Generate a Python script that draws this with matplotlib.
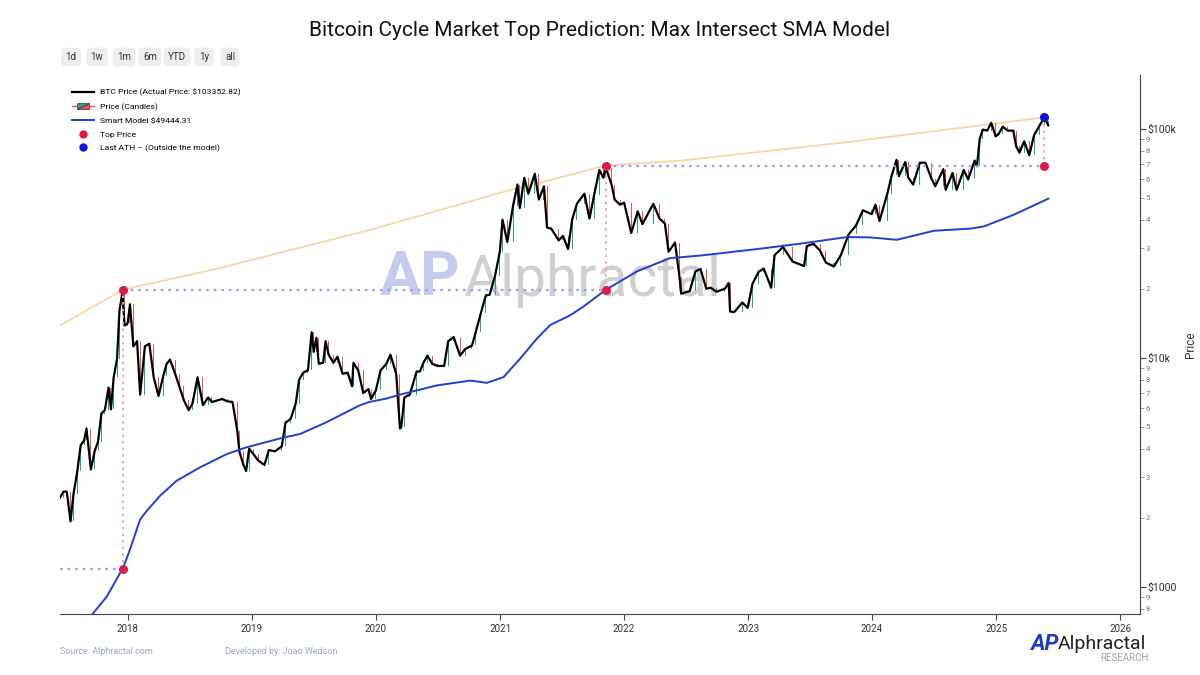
import matplotlib
matplotlib.use('Agg')
import matplotlib.pyplot as plt
import matplotlib.dates as mdates
import matplotlib.ticker as mticker
from matplotlib.lines import Line2D
from matplotlib.patches import Polygon
from matplotlib.legend_handler import HandlerBase
import numpy as np
import pandas as pd

plt.rcParams['font.family'] = ['Roboto', 'DejaVu Sans']

# BTC closes (roughly twice a month, extra points at turns)
price_dates = [
    "2017-06-15", "2017-06-25", "2017-07-05", "2017-07-16", "2017-07-25", "2017-08-05",
    "2017-08-15", "2017-08-25", "2017-09-01", "2017-09-14", "2017-09-25", "2017-10-05",
    "2017-10-15", "2017-10-25", "2017-11-05", "2017-11-12", "2017-11-20", "2017-11-30",
    "2017-12-07", "2017-12-16", "2017-12-22", "2017-12-31", "2018-01-07", "2018-01-17",
    "2018-01-28", "2018-02-06", "2018-02-20", "2018-03-05", "2018-03-18", "2018-04-01",
    "2018-04-15", "2018-04-25", "2018-05-05", "2018-05-20", "2018-06-01", "2018-06-15",
    "2018-06-29", "2018-07-10", "2018-07-25", "2018-08-10", "2018-08-25", "2018-09-05",
    "2018-09-20", "2018-10-05", "2018-10-20", "2018-11-05", "2018-11-19", "2018-11-25",
    "2018-12-07", "2018-12-15", "2018-12-24", "2019-01-05", "2019-01-20", "2019-02-07",
    "2019-02-20", "2019-03-10", "2019-03-30", "2019-04-10", "2019-04-25", "2019-05-10",
    "2019-05-20", "2019-06-01", "2019-06-15", "2019-06-26", "2019-07-02", "2019-07-10",
    "2019-07-17", "2019-07-30", "2019-08-06", "2019-08-15", "2019-08-29", "2019-09-10",
    "2019-09-25", "2019-10-10", "2019-10-23", "2019-10-27", "2019-11-10", "2019-11-25",
    "2019-12-10", "2019-12-18", "2020-01-01", "2020-01-15", "2020-02-01", "2020-02-13",
    "2020-03-01", "2020-03-12", "2020-03-16", "2020-03-25", "2020-04-10", "2020-04-30",
    "2020-05-10", "2020-05-20", "2020-06-01", "2020-06-15", "2020-07-01", "2020-07-20",
    "2020-08-01", "2020-08-17", "2020-09-05", "2020-09-20", "2020-10-10", "2020-10-21",
    "2020-11-05", "2020-11-20", "2020-12-01", "2020-12-17", "2020-12-31", "2021-01-08",
    "2021-01-22", "2021-02-08", "2021-02-21", "2021-02-28", "2021-03-13", "2021-03-25",
    "2021-04-13", "2021-04-25", "2021-05-10", "2021-05-19", "2021-06-01", "2021-06-22",
    "2021-07-05", "2021-07-20", "2021-08-01", "2021-08-15", "2021-09-06", "2021-09-21",
    "2021-10-05", "2021-10-20", "2021-11-01", "2021-11-08", "2021-11-25", "2021-12-04",
    "2021-12-20", "2022-01-01", "2022-01-22", "2022-02-10", "2022-02-24", "2022-03-28",
    "2022-04-15", "2022-05-01", "2022-05-12", "2022-05-31", "2022-06-13", "2022-06-18",
    "2022-07-01", "2022-07-13", "2022-07-30", "2022-08-14", "2022-08-31", "2022-09-13",
    "2022-09-30", "2022-10-25", "2022-11-05", "2022-11-09", "2022-11-21", "2022-12-15",
    "2022-12-31", "2023-01-14", "2023-02-01", "2023-02-16", "2023-03-10", "2023-03-20",
    "2023-04-14", "2023-05-12", "2023-06-15", "2023-06-23", "2023-07-13", "2023-08-01",
    "2023-08-18", "2023-09-11", "2023-10-01", "2023-10-24", "2023-11-15", "2023-12-05",
    "2023-12-31", "2024-01-11", "2024-01-23", "2024-02-15", "2024-02-28", "2024-03-13",
    "2024-03-20", "2024-04-08", "2024-04-17", "2024-05-01", "2024-05-21", "2024-06-06",
    "2024-06-24", "2024-07-05", "2024-07-29", "2024-08-05", "2024-08-25", "2024-09-06",
    "2024-09-27", "2024-10-10", "2024-10-29", "2024-11-05", "2024-11-13", "2024-11-22",
    "2024-12-05", "2024-12-17", "2024-12-30", "2025-01-08", "2025-01-20", "2025-02-03",
    "2025-02-20", "2025-02-28", "2025-03-10", "2025-03-24", "2025-04-08", "2025-04-22",
    "2025-05-08", "2025-05-22", "2025-05-28", "2025-06-03",
]
price_close = [
    2450, 2600, 2600, 1930, 2550, 3200,
    4150, 4350, 4900, 3250, 3900, 4300,
    5700, 5900, 7400, 5950, 8200, 9900,
    16000, 19400, 13800, 14100, 17100, 11200,
    11800, 6900, 11200, 11500, 8200, 6800,
    8300, 9400, 9800, 8500, 7500, 6500,
    5900, 6300, 8200, 6200, 6700, 6400,
    6500, 6600, 6450, 6400, 4800, 3900,
    3400, 3200, 4000, 3800, 3550, 3400,
    3950, 3900, 4100, 5200, 5400, 6300,
    8000, 8600, 8800, 12900, 10600, 12200,
    9400, 9500, 11800, 10300, 9500, 10100,
    8500, 8600, 7500, 9500, 8800, 7000,
    7300, 6600, 7200, 8800, 9400, 10300,
    8500, 4900, 5000, 6700, 6900, 8700,
    8700, 9500, 10200, 9400, 9200, 9200,
    11800, 12300, 10200, 10900, 11300, 12900,
    15600, 18700, 18800, 22800, 29000, 40000,
    32000, 46000, 57000, 45000, 61000, 52000,
    63500, 49000, 56000, 37000, 36500, 32500,
    34000, 29800, 40000, 47000, 52000, 40500,
    51500, 66000, 61000, 67500, 57000, 49000,
    46500, 47500, 35000, 43500, 38300, 47000,
    40500, 38500, 29000, 31800, 22500, 19000,
    19300, 19500, 23800, 24400, 20000, 20200,
    19400, 20000, 21200, 15900, 15800, 17400,
    16500, 21000, 23700, 24500, 20200, 28000,
    30400, 26300, 25100, 30700, 31400, 29300,
    26000, 25000, 28000, 34500, 37800, 44000,
    42300, 46500, 39500, 52000, 62500, 73000,
    62000, 71500, 61000, 57000, 71000, 71000,
    60500, 56000, 66500, 54000, 64000, 54000,
    66000, 60000, 72500, 68500, 90000, 99000,
    98000, 106000, 92500, 95000, 102000, 98000,
    98000, 84000, 78500, 88000, 76500, 93500,
    103000, 111600, 107800, 103350,
]

# Smart Model (SMA) line
model_dates = [
    "2017-09-17", "2017-10-31", "2017-12-09", "2017-12-17", "2018-01-07", "2018-02-06",
    "2018-02-25", "2018-04-05", "2018-05-24", "2018-08-01", "2018-10-19", "2018-12-16",
    "2019-03-26", "2019-05-23", "2019-08-09", "2019-11-14", "2019-12-14", "2020-01-28",
    "2020-03-21", "2020-06-28", "2020-10-05", "2020-11-23", "2021-01-11", "2021-03-01",
    "2021-04-19", "2021-05-29", "2021-07-26", "2021-09-03", "2021-11-08", "2022-02-08",
    "2022-05-16", "2022-08-13", "2023-02-06", "2023-06-14", "2023-10-19", "2023-12-26",
    "2024-03-14", "2024-07-01", "2024-10-17", "2024-11-25", "2025-02-22", "2025-06-03",
]
model_values = [
    754, 906, 1148, 1200, 1452, 1967,
    2139, 2489, 2898, 3317, 3793, 4058,
    4443, 4642, 5227, 6187, 6412, 6606,
    6950, 7560, 7940, 7760, 8220, 9910,
    12100, 13900, 15300, 16700, 19783, 23800,
    27200, 27900, 29900, 31600, 33600, 33500,
    32700, 35800, 36600, 37400, 42100, 49444,
]

# upper curve through the cycle tops
curve_dates = ["2017-06-15", "2017-12-17", "2018-09-23", "2019-12-14", "2021-01-01",
               "2021-11-08", "2022-06-15", "2023-10-28", "2025-05-22"]
curve_values = [13800, 19783, 24500, 36100, 52400, 69000, 72400, 87600, 111970]

# cycle tops and where the model meets the previous top
top_dates = ["2017-12-17", "2021-11-08"]
top_prices = [19783, 69000]
prev_top_levels = [1200, 19783]
ath_date = "2025-05-22"
ath_price = 111970

green = '#26a69a'
red = '#ef5350'
dot_red = '#e0194b'
blue = '#1d3fd6'
dot_style = (0, (1.2, 2.2))

fig = plt.figure(figsize=(12, 6.75), dpi=100)
ax = fig.add_axes([0.05, 0.0904, 0.9, 0.799])

d = pd.to_datetime(price_dates)
c = np.array(price_close, dtype=float)
o = np.r_[c[0], c[:-1]]
up = c >= o
ax.bar(d[up], (c - o)[up], bottom=o[up], width=3, color=green, zorder=2)
ax.bar(d[~up], (c - o)[~up], bottom=o[~up], width=3, color=red, zorder=2)
ax.plot(d, c, color='black', lw=1.6, zorder=3)

ax.plot(pd.to_datetime(curve_dates), curve_values, color='#f9d7a0', lw=1.3, zorder=1)
ax.plot(pd.to_datetime(model_dates), model_values, color=blue, lw=1.4, zorder=4)

x_start = pd.Timestamp("2017-06-15")
x_end = pd.Timestamp("2026-02-28")
td = pd.to_datetime(top_dates)
hline_starts = [x_start, td[0]]
for i in range(len(top_dates)):
    ax.plot([hline_starts[i], td[i]], [prev_top_levels[i]] * 2, color='#9d9df2',
            ls=dot_style, lw=1.6, zorder=5)
    ax.plot([td[i], td[i]], [prev_top_levels[i], top_prices[i]], color='#f5a3b6',
            ls=dot_style, lw=1.4, zorder=5)
    ax.plot([td[i]] * 2, [top_prices[i], prev_top_levels[i]], 'o', color=dot_red,
            ms=5.5, zorder=6)

ad = pd.Timestamp(ath_date)
ax.plot([td[1], ad], [top_prices[1]] * 2, color='#9d9df2', ls=dot_style, lw=1.6, zorder=5)
ax.plot([ad, ad], [top_prices[1], ath_price], color='#f5a3b6', ls=dot_style, lw=1.4, zorder=5)
ax.plot([ad], [top_prices[1]], 'o', color=dot_red, ms=5.5, zorder=6)
ax.plot([ad], [ath_price], 'o', color='#0a14d8', ms=5.5, zorder=6)

# axes styling
ax.set_yscale('log')
ax.set_ylim(760, 172000)
ax.set_xlim(x_start, x_end)
for s in ['left', 'top']:
    ax.spines[s].set_visible(False)
ax.spines['right'].set_color('#444444')
ax.spines['bottom'].set_color('#444444')
ax.yaxis.tick_right()
ax.yaxis.set_label_position('right')
ax.set_ylabel('Price', fontsize=8.5, color='#333333')
ax.yaxis.set_label_coords(1.041, 0.5)

ax.yaxis.set_major_locator(mticker.LogLocator(base=10))
ax.yaxis.set_major_formatter(mticker.FuncFormatter(
    lambda v, p: {1000: '$1000', 10000: '$10k', 100000: '$100k'}.get(int(round(v)), '')))
ax.yaxis.set_minor_locator(mticker.LogLocator(base=10, subs=range(2, 10)))
ax.yaxis.set_minor_formatter(mticker.FuncFormatter(
    lambda v, p: str(int(round(v / 10 ** np.floor(np.log10(v) + 1e-9))))))
ax.tick_params(axis='y', which='major', labelsize=7.5, length=4, color='#444444', labelcolor='#333333', pad=1)
ax.tick_params(axis='y', which='minor', labelsize=5.5, length=3, color='#888888', labelcolor='#777777', pad=1)
ax.xaxis.set_major_locator(mdates.YearLocator())
ax.xaxis.set_major_formatter(mdates.DateFormatter('%Y'))
ax.tick_params(axis='x', labelsize=7, length=4, color='#444444', labelcolor='#333333')

# watermark
ax.text(0.333, 0.623, 'AP', transform=ax.transAxes, fontsize=44, fontweight='bold',
        color='#b4bbec', alpha=0.75, ha='center', va='center', zorder=0)
ax.text(0.373, 0.618, 'Alphractal', transform=ax.transAxes, fontsize=41,
        color='#c4c4c4', alpha=0.8, ha='left', va='center', zorder=0)


class CandleHandler(HandlerBase):
    def create_artists(self, legend, orig, xd, yd, w, h, fontsize, trans):
        ln = Line2D([xd, xd + w], [yd + h / 2] * 2, color=red, lw=1, transform=trans)
        a = Polygon([[xd + w * 0.22, yd], [xd + w * 0.22, yd + h], [xd + w * 0.78, yd + h]],
                    closed=True, facecolor=green, edgecolor='#333333', lw=0.5, transform=trans)
        b = Polygon([[xd + w * 0.22, yd], [xd + w * 0.78, yd], [xd + w * 0.78, yd + h]],
                    closed=True, facecolor=red, edgecolor='#333333', lw=0.5, transform=trans)
        return [ln, a, b]


candle_proxy = Polygon([[0, 0], [1, 1], [1, 0]])
handles = [
    Line2D([], [], color='black', lw=1.6),
    candle_proxy,
    Line2D([], [], color=blue, lw=1.4),
    Line2D([], [], ls='none', marker='o', color=dot_red, ms=5),
    Line2D([], [], ls='none', marker='o', color='#0a14d8', ms=5),
]
labels = [
    'BTC Price (Actual Price: $103352.82)',
    'Price (Candles)',
    'Smart Model $49444.31',
    'Top Price',
    'Last ATH \u2013 (Outside the model)',
]
fig.legend(handles, labels, loc='upper left', bbox_to_anchor=(0.054, 0.88), frameon=False,
           fontsize=6.1, handlelength=2.5, handletextpad=0.8, labelspacing=0.78,
           handler_map={candle_proxy: CandleHandler()})

# title and range buttons
fig.text(0.5, 0.955, 'Bitcoin Cycle Market Top Prediction: Max Intersect SMA Model',
         ha='center', va='center', fontsize=15, color='#111111')
buttons = ['1d', '1w', '1m', '6m', 'YTD', '1y', 'all']
btn_x = [71, 97, 124, 150, 177, 204, 230]
for b, bx in zip(buttons, btn_x):
    fig.text(bx / 1200, 1 - 57 / 675, b, ha='center', va='center', fontsize=7, color='#333333',
             bbox=dict(boxstyle='round,pad=0.45', facecolor='#eeeeee', edgecolor='none'))

# footer
fig.text(60 / 1200, 1 - 651 / 675, 'Source: Alphractal.com', fontsize=6.5, color='#9aa9c4', va='center')
fig.text(225 / 1200, 1 - 651 / 675, 'Developed by: Joao Wedson', fontsize=6.5, color='#9aa9c4', va='center')
fig.text(1030 / 1200, 1 - 644 / 675, 'AP', fontsize=16, fontweight='bold', fontstyle='italic',
         color='#2238c8', va='center')
fig.text(1058 / 1200, 1 - 644 / 675, 'Alphractal', fontsize=14, color='#222222', va='center')
fig.text(1149 / 1200, 1 - 658 / 675, 'RESEARCH', fontsize=7, color='#9aa2b2', va='center', ha='right')

fig.savefig('out.png', dpi=100, facecolor='white')
